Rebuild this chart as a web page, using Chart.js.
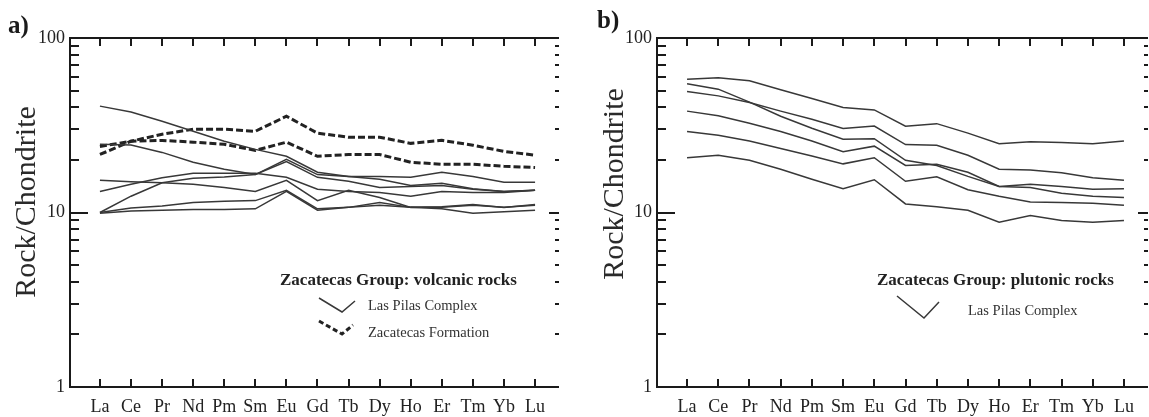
<!DOCTYPE html>
<html>
<head>
<meta charset="utf-8">
<script src="https://cdn.jsdelivr.net/npm/chart.js@4"></script>
<style>
  html, body { margin: 0; padding: 0; background: #fff; }
  #wrap { position: relative; width: 1149px; height: 417px; }
  canvas { position: absolute; top: 0; }
</style>
</head>
<body>
<div id="wrap">
  <canvas id="volcanic" width="575" height="417" style="left:0"></canvas>
  <canvas id="plutonic" width="574" height="417" style="left:575px"></canvas>
</div>
<script>
const elements = ['La', 'Ce', 'Pr', 'Nd', 'Pm', 'Sm', 'Eu', 'Gd', 'Tb', 'Dy', 'Ho', 'Er', 'Tm', 'Yb', 'Lu'];
const yTicks = [1, 10, 100];

// a) volcanic rocks, Las Pilas Complex (solid)
const pilasVolcanic = [
  [40.7, 37.7, 33.3, 29.2, 25.6, 23.0, 21.0, 17.0, 16.1, 16.1, 15.9, 17.0, 16.1, 14.9, 14.9],
  [24.6, 24.4, 22.1, 19.4, 17.7, 16.5, 20.2, 16.5, 16.1, 15.5, 14.3, 14.7, 13.7, 13.2, 13.4],
  [15.3, 15.0, 14.8, 14.5, 13.9, 13.2, 15.3, 11.7, 13.4, 12.2, 10.7, 10.8, 11.1, 10.7, 11.1],
  [13.2, 14.5, 15.8, 16.8, 16.8, 16.8, 15.9, 13.6, 13.2, 13.0, 12.4, 13.2, 13.0, 13.0, 13.4],
  [10.0, 12.4, 14.8, 15.7, 16.0, 16.5, 19.6, 15.9, 15.1, 13.9, 14.1, 14.3, 13.6, 13.2, 13.4],
  [10.0, 10.6, 10.9, 11.4, 11.6, 11.7, 13.4, 10.5, 10.7, 11.4, 10.7, 10.7, 11.0, 10.7, 11.0],
  [9.9, 10.2, 10.3, 10.4, 10.4, 10.5, 13.2, 10.3, 10.7, 11.0, 10.7, 10.5, 9.9, 10.1, 10.3],
];
// a) volcanic rocks, Zacatecas Formation (dashed)
const zacatecasFormation = [
  [21.5, 25.6, 28.1, 30.0, 30.0, 29.2, 35.6, 28.5, 27.0, 27.0, 24.9, 25.9, 24.3, 22.4, 21.3],
  [23.9, 25.6, 25.9, 25.3, 24.6, 22.7, 25.3, 21.0, 21.5, 21.5, 19.4, 18.9, 18.9, 18.4, 18.1],
];
// b) plutonic rocks, Las Pilas Complex
const pilasPlutonic = [
  [58.1, 59.1, 56.9, 50.5, 45.0, 40.0, 38.7, 31.2, 32.3, 28.5, 24.8, 25.4, 25.2, 24.8, 25.7],
  [54.6, 50.9, 42.9, 35.6, 30.4, 26.3, 26.5, 19.9, 18.6, 16.1, 14.1, 13.9, 12.9, 12.4, 12.2],
  [49.4, 46.6, 42.7, 38.1, 34.2, 30.3, 31.3, 24.5, 24.3, 21.3, 17.7, 17.5, 16.9, 15.8, 15.3],
  [38.1, 35.8, 32.5, 29.1, 25.7, 22.3, 24.0, 18.6, 18.9, 17.0, 14.1, 14.5, 14.1, 13.6, 13.7],
  [29.1, 27.7, 25.7, 23.3, 21.1, 19.0, 20.6, 15.1, 16.0, 13.5, 12.4, 11.5, 11.4, 11.3, 11.0],
  [20.6, 21.3, 19.9, 17.7, 15.5, 13.7, 15.4, 11.2, 10.8, 10.3, 8.8, 9.6, 9.0, 8.8, 9.0],
];

const SERIF = '"Liberation Serif", "Times New Roman", serif';
const INK = '#1a1a1a';
const LINE = '#383838';

function toPoints(row) {
  return row.map((v, i) => ({ x: i, y: v }));
}

function solid(row) {
  return { data: toPoints(row), borderColor: LINE, borderWidth: 1.5, pointRadius: 0, fill: false };
}

function dashed(row) {
  return { data: toPoints(row), borderColor: '#222', borderWidth: 3, borderDash: [7, 3], pointRadius: 0, fill: false };
}

// axis frame with inward ticks, drawn off the chart's scales
const frame = {
  id: 'frame',
  afterDraw(chart) {
    const { ctx, chartArea: a, scales: { x, y } } = chart;
    ctx.save();
    ctx.strokeStyle = INK;
    ctx.lineWidth = 2;
    ctx.beginPath();
    ctx.moveTo(a.right, a.top);
    ctx.lineTo(a.left, a.top);
    ctx.lineTo(a.left, a.bottom);
    ctx.lineTo(a.right, a.bottom);
    elements.forEach((_, i) => {
      const px = Math.round(x.getPixelForValue(i));
      ctx.moveTo(px, a.top);
      ctx.lineTo(px, a.top + 8);
      ctx.moveTo(px, a.bottom);
      ctx.lineTo(px, a.bottom - 8);
    });
    const minor = [];
    yTicks.slice(0, -1).forEach((d) => {
      for (let m = 2; m <= 9; m++) minor.push(d * m);
    });
    yTicks.forEach((v) => {
      const py = Math.round(y.getPixelForValue(v));
      ctx.moveTo(a.left, py);
      ctx.lineTo(a.left + 18, py);
      ctx.moveTo(a.right, py);
      ctx.lineTo(a.right - 10, py);
    });
    minor.forEach((v) => {
      const py = Math.round(y.getPixelForValue(v));
      ctx.moveTo(a.left, py);
      ctx.lineTo(a.left + 9, py);
      ctx.moveTo(a.right, py);
      ctx.lineTo(a.right - 4, py);
    });
    ctx.stroke();
    ctx.restore();
  },
};

// panel letter, y title and the small hand-drawn legend
const notes = {
  id: 'notes',
  afterDraw(chart, args, o) {
    const ctx = chart.ctx;
    ctx.save();
    ctx.fillStyle = INK;
    ctx.textBaseline = 'alphabetic';

    ctx.font = `bold 25px ${SERIF}`;
    ctx.textAlign = 'left';
    ctx.fillText(o.letter, o.letterX, o.letterY);

    ctx.save();
    ctx.translate(o.titleX, o.titleY);
    ctx.rotate(-Math.PI / 2);
    ctx.textAlign = 'center';
    ctx.font = `30px ${SERIF}`;
    ctx.fillStyle = '#2a2a2a';
    ctx.fillText('Rock/Chondrite', 0, 0);
    ctx.restore();

    ctx.font = `bold 17px ${SERIF}`;
    ctx.fillStyle = '#222';
    ctx.fillText(o.heading, o.headX, o.headY);

    ctx.font = `14.5px ${SERIF}`;
    ctx.fillStyle = '#333';
    o.items.forEach((it) => {
      ctx.fillText(it.label, it.tx, it.ty);
      ctx.beginPath();
      ctx.lineWidth = it.dash ? 3 : 1.5;
      ctx.strokeStyle = it.dash ? '#222' : LINE;
      ctx.setLineDash(it.dash ? [5, 3] : []);
      ctx.moveTo(it.v[0], it.v[1]);
      ctx.lineTo(it.v[2], it.v[3]);
      ctx.lineTo(it.v[4], it.v[5]);
      ctx.stroke();
    });
    ctx.restore();
  },
};

function makeChart(id, datasets, leftWidth, rightPad, noteOpts) {
  return new Chart(document.getElementById(id), {
    type: 'line',
    data: { datasets },
    plugins: [frame, notes],
    options: {
      responsive: false,
      animation: false,
      events: [],
      layout: { padding: { top: 38, right: rightPad, left: 0, bottom: 0 } },
      plugins: { legend: { display: false }, tooltip: { enabled: false }, notes: noteOpts },
      scales: {
        x: {
          type: 'linear',
          min: -0.963,
          max: 14.77,
          grid: { display: false, drawTicks: false },
          border: { display: false },
          afterBuildTicks: (s) => { s.ticks = elements.map((_, i) => ({ value: i })); },
          afterFit: (s) => { s.height = 30; },
          ticks: {
            autoSkip: false,
            maxRotation: 0,
            padding: 9,
            color: '#222',
            font: { family: SERIF, size: 18 },
            callback: (v) => elements[v],
          },
        },
        y: {
          type: 'logarithmic',
          min: 1,
          max: 100,
          grid: { display: false, drawTicks: false },
          border: { display: false },
          afterBuildTicks: (s) => { s.ticks = yTicks.map((v) => ({ value: v })); },
          afterFit: (s) => { s.width = leftWidth; },
          ticks: {
            autoSkip: false,
            padding: 5,
            color: '#222',
            font: { family: SERIF, size: 18 },
            callback: (v) => String(v),
          },
        },
      },
    },
  });
}

makeChart('volcanic',
  [...pilasVolcanic.map(solid), ...zacatecasFormation.map(dashed)],
  70, 16,
  {
    letter: 'a)', letterX: 8, letterY: 33,
    titleX: 35, titleY: 202,
    heading: 'Zacatecas Group: volcanic rocks', headX: 280, headY: 285,
    items: [
      { label: 'Las Pilas Complex', tx: 368, ty: 310, v: [319, 298, 342, 312, 355, 301] },
      { label: 'Zacatecas Formation', tx: 368, ty: 337, v: [319, 321, 342, 334, 353, 325], dash: true },
    ],
  });

makeChart('plutonic',
  pilasPlutonic.map(solid),
  82, 1,
  {
    letter: 'b)', letterX: 22, letterY: 28,
    titleX: 48, titleY: 184,
    heading: 'Zacatecas Group: plutonic rocks', headX: 302, headY: 285,
    items: [
      { label: 'Las Pilas Complex', tx: 393, ty: 315, v: [322, 296, 349, 318, 364, 302] },
    ],
  });
</script>
</body>
</html>
